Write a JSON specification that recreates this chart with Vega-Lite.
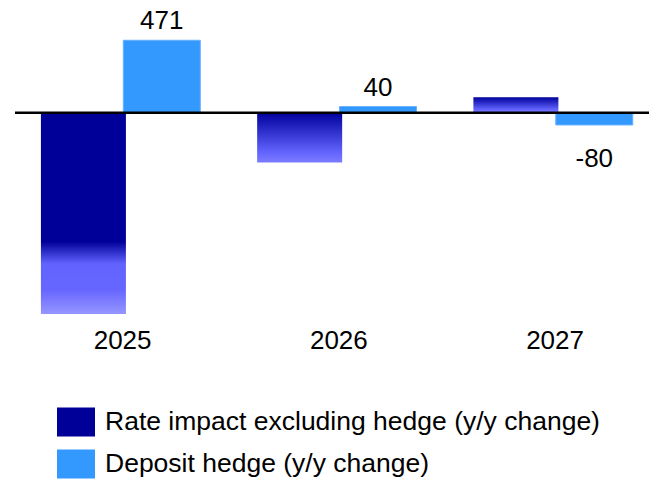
{
  "$schema": "https://vega.github.io/schema/vega-lite/v6.json",
  "width": 634,
  "height": 320,
  "autosize": {"type": "none"},
  "padding": {"left": 15, "top": 0, "right": 0, "bottom": 161},
  "background": "white",
  "config": {"view": {"stroke": null}, "font": "Liberation Sans"},
  "data": {
    "values": [
      {"year": "2025", "series": "Rate impact excluding hedge (y/y change)", "value": -1310},
      {"year": "2025", "series": "Deposit hedge (y/y change)", "value": 471},
      {"year": "2026", "series": "Rate impact excluding hedge (y/y change)", "value": -325},
      {"year": "2026", "series": "Deposit hedge (y/y change)", "value": 40},
      {"year": "2027", "series": "Rate impact excluding hedge (y/y change)", "value": 100},
      {"year": "2027", "series": "Deposit hedge (y/y change)", "value": -80}
    ]
  },
  "layer": [
    {
      "transform": [{"filter": "datum.series === 'Rate impact excluding hedge (y/y change)'"}],
      "mark": {"type": "bar", "width": 85},
      "encoding": {
        "x": {"field": "year", "type": "nominal", "scale": {"domain": ["2025", "2026", "2027"], "paddingInner": 0.275, "paddingOuter": 0.1035, "align": 0.653},
          "axis": {"title": null, "domain": false, "ticks": false, "tickSize": 0, "labelAngle": 0, "labelFontSize": 26, "labelColor": "#000000", "labelBaseline": "alphabetic", "labelPadding": 28, "grid": false}},
        "xOffset": {"field": "series", "type": "nominal", "scale": {"domain": ["Rate impact excluding hedge (y/y change)", "Deposit hedge (y/y change)"], "paddingInner": 0, "paddingOuter": 0}},
        "y": {"field": "value", "type": "quantitative", "scale": {"domain": [-1349, 733], "nice": false, "zero": false}, "axis": null},
        "fill": {
          "condition": {
            "test": "datum.year === '2025'",
            "value": {"gradient": "linear", "x1": 0, "y1": 0, "x2": 0, "y2": 1, "stops": [
              {"offset": 0, "color": "#000099"},
              {"offset": 0.64, "color": "#000099"},
              {"offset": 0.75, "color": "#6262ff"},
              {"offset": 0.88, "color": "#6666ff"},
              {"offset": 1, "color": "#9696ff"}
            ]}
          },
          "value": {"gradient": "linear", "x1": 0, "y1": 0, "x2": 0, "y2": 1, "stops": [
            {"offset": 0, "color": "#00009c"},
            {"offset": 0.8, "color": "#6464ff"},
            {"offset": 1, "color": "#7d7dff"}
          ]}
        }
      }
    },
    {
      "transform": [{"filter": "datum.series === 'Deposit hedge (y/y change)'"}],
      "mark": {"type": "bar", "width": 77, "stroke": "#66b2ff", "strokeWidth": 1},
      "encoding": {
        "x": {"field": "year", "type": "nominal"},
        "xOffset": {"field": "series", "type": "nominal"},
        "y": {"field": "value", "type": "quantitative"},
        "color": {
          "field": "series", "type": "nominal",
          "scale": {"domain": ["Rate impact excluding hedge (y/y change)", "Deposit hedge (y/y change)"], "range": ["#000099", "#3399ff"]},
          "legend": {
            "title": null, "orient": "none", "legendX": 42, "legendY": 403, "padding": 0,
            "symbolType": "M-1,-0.763H1V0.763H-1Z", "symbolSize": 1444, "symbolStrokeWidth": 0,
            "labelFontSize": 26.5, "labelColor": "#000000", "labelOffset": 10, "rowPadding": 8, "labelLimit": 600
          }
        }
      }
    },
    {
      "transform": [{"filter": "datum.series === 'Deposit hedge (y/y change)' && datum.value > 0"}],
      "mark": {"type": "text", "fontSize": 26, "baseline": "alphabetic", "dy": -11, "color": "#000000"},
      "encoding": {
        "x": {"field": "year", "type": "nominal"},
        "xOffset": {"field": "series", "type": "nominal"},
        "y": {"field": "value", "type": "quantitative"},
        "text": {"field": "value", "type": "nominal"}
      }
    },
    {
      "transform": [{"filter": "datum.series === 'Deposit hedge (y/y change)' && datum.value < 0"}],
      "mark": {"type": "text", "fontSize": 26, "baseline": "alphabetic", "dy": 42, "color": "#000000"},
      "encoding": {
        "x": {"field": "year", "type": "nominal"},
        "xOffset": {"field": "series", "type": "nominal"},
        "y": {"field": "value", "type": "quantitative"},
        "text": {"field": "value", "type": "nominal"}
      }
    },
    {
      "data": {"values": [{"zero": 0}]},
      "mark": {"type": "rule", "color": "#000000", "strokeWidth": 2.5},
      "encoding": {"y": {"field": "zero", "type": "quantitative"}}
    }
  ]
}
